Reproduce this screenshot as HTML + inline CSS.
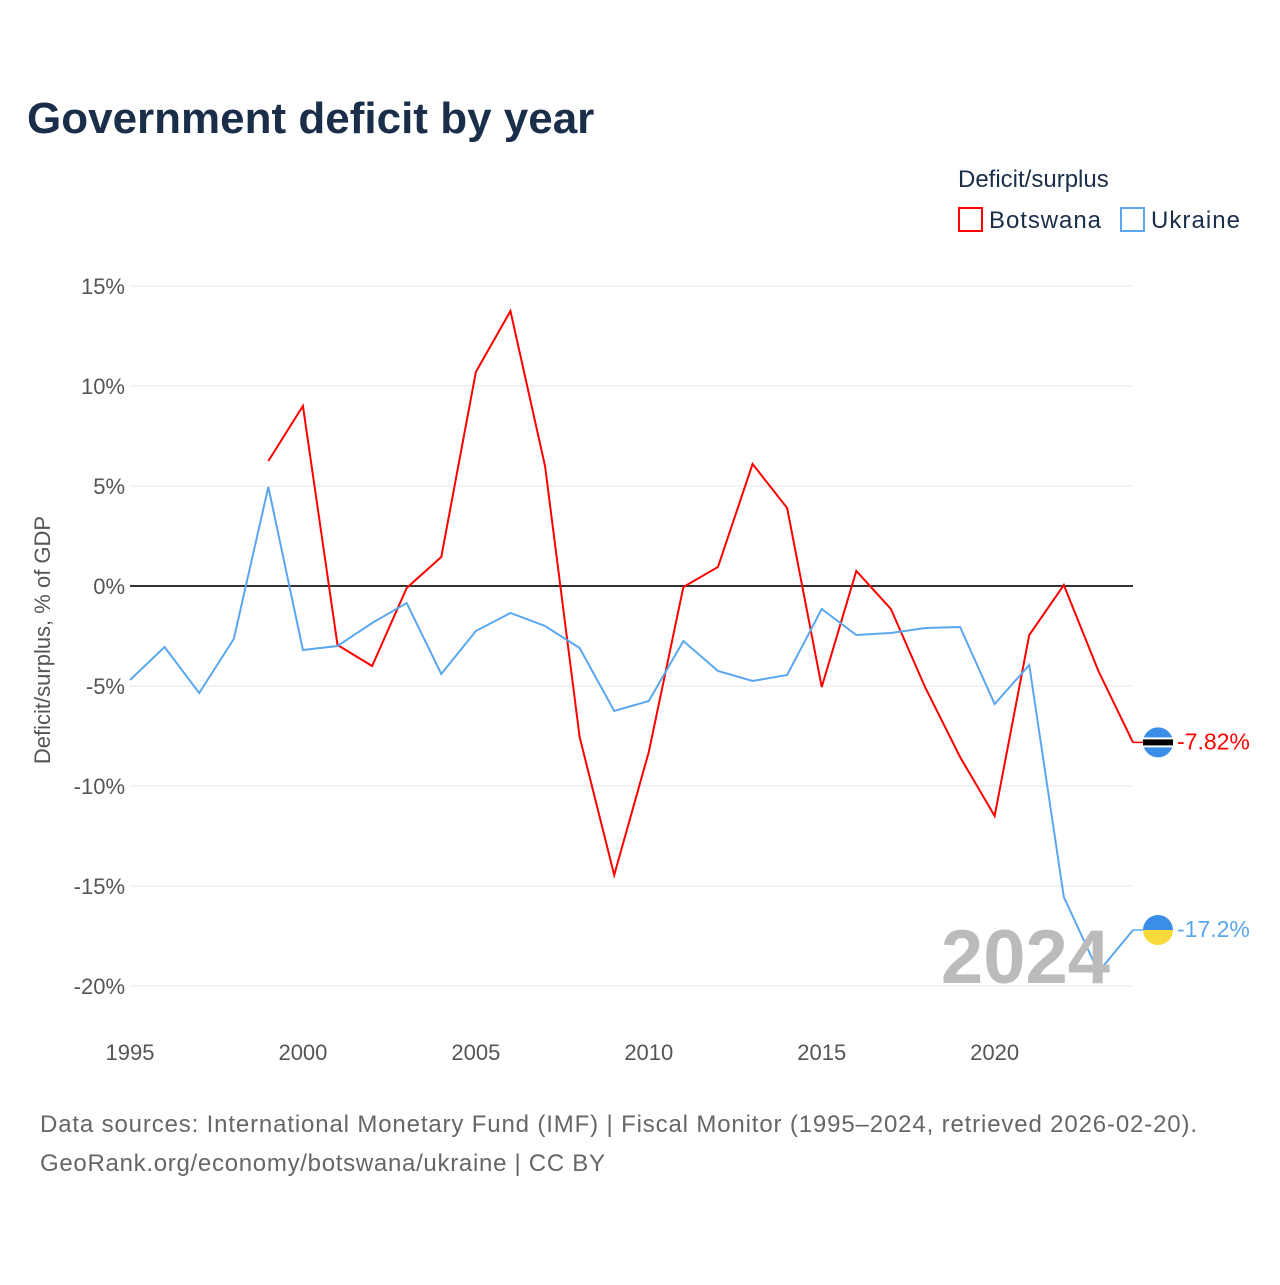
<!DOCTYPE html>
<html><head><meta charset="utf-8"><style>
body{margin:0;background:#fff;width:1280px;height:1280px;overflow:hidden;font-family:"Liberation Sans",sans-serif}
</style></head><body>
<svg width="1280" height="1280" xmlns="http://www.w3.org/2000/svg" font-family="Liberation Sans, sans-serif">
<text x="27" y="133" font-size="44" font-weight="bold" fill="#1a2e4a">Government deficit by year</text>
<text x="958" y="187" font-size="24" fill="#1a2e4a">Deficit/surplus</text>
<g><rect x="959" y="208" width="23" height="23" fill="none" stroke="#f00" stroke-width="2"/><text x="989" y="228" font-size="24" fill="#1a2e4a" textLength="112">Botswana</text></g>
<g><rect x="1121" y="208" width="23" height="23" fill="none" stroke="#5aa7f0" stroke-width="2"/><text x="1151" y="228" font-size="24" fill="#1a2e4a" textLength="89">Ukraine</text></g>
<text transform="translate(50,640) rotate(-90)" text-anchor="middle" font-size="22" fill="#555">Deficit/surplus, % of GDP</text>
<g id="grid"></g><g id="marks"></g>
<text x="1110" y="983" text-anchor="end" font-size="76" font-weight="bold" fill="#bbb">2024</text>
<text x="40" y="1132" font-size="24" fill="#666" textLength="1157">Data sources: International Monetary Fund (IMF) | Fiscal Monitor (1995–2024, retrieved 2026-02-20).</text>
<text x="40" y="1171" font-size="24" fill="#666" textLength="565">GeoRank.org/economy/botswana/ukraine | CC BY</text>
</svg>
<script>
const years=[1995,1996,1997,1998,1999,2000,2001,2002,2003,2004,2005,2006,2007,2008,2009,2010,2011,2012,2013,2014,2015,2016,2017,2018,2019,2020,2021,2022,2023,2024];
const botswana=[null,null,null,null,6.25,9.0,-2.95,-4.0,-0.1,1.45,10.7,13.75,6.0,-7.55,-14.45,-8.3,-0.05,0.95,6.1,3.9,-5.05,0.75,-1.15,-5.1,-8.55,-11.5,-2.45,0.05,-4.25,-7.82];
const ukraine=[-4.7,-3.05,-5.35,-2.65,4.95,-3.2,-3.0,-1.85,-0.85,-4.4,-2.25,-1.35,-2.0,-3.1,-6.25,-5.75,-2.75,-4.25,-4.75,-4.45,-1.15,-2.45,-2.35,-2.1,-2.05,-5.9,-3.95,-15.55,-19.3,-17.2];
const yTicks=[15,10,5,0,-5,-10,-15,-20];
const yTickLabels=["15%","10%","5%","0%","-5%","-10%","-15%","-20%"];
const xTicks=[1995,2000,2005,2010,2015,2020];
const NS="http://www.w3.org/2000/svg";
const X=y=>130+(y-1995)*(1003/29);
const Y=v=>586-v*20;
function mk(t,a,p){const e=document.createElementNS(NS,t);for(const k in a)e.setAttribute(k,a[k]);p.appendChild(e);return e;}
const g=document.getElementById('grid'),m=document.getElementById('marks');
yTicks.forEach((t,i)=>{
 const l=mk('line',{x1:130,x2:1133,y1:Y(t),y2:Y(t),stroke:t===0?'#333':'#e6e6e6','stroke-width':t===0?2:1},g);
 
 
 const tx=mk('text',{x:125,y:Y(t)+8,'text-anchor':'end','font-size':22,fill:'#555'},g);
 tx.textContent=yTickLabels[i];
 
 
});
xTicks.forEach(t=>{
 const tx=mk('text',{x:X(t),y:1060,'text-anchor':'middle','font-size':22,fill:'#555'},g);
 tx.textContent=t;
 
 
});
function series(vals,color,name,label){
 let d='';let pen=false;
 vals.forEach((v,i)=>{if(v===null){pen=false;return;}d+=(pen?'L':'M')+X(years[i])+','+Y(v);pen=true;});
 const p=mk('path',{d:d,fill:'none',stroke:color,'stroke-width':2},m);
 
 
 const last=vals[vals.length-1];
 const ln=mk('line',{x1:X(2024),x2:1158,y1:Y(last),y2:Y(last),stroke:color,'stroke-width':1.5},m);
 
 
 const tx=mk('text',{x:1177,y:Y(last)+7,'font-size':23,fill:color},m);
 tx.textContent=label;
 
 
 return Y(last);
}
const yb=series(botswana,'#f00','botswana','-7.82%');
const yu=series(ukraine,'#5aa7f0','ukraine','-17.2%');
const fb=mk('g',{},m);


mk('circle',{cx:1158,cy:yb,r:15,fill:'#3b8ee8'},fb);
mk('rect',{x:1143,y:yb-5,width:30,height:10,fill:'#fff'},fb);
mk('rect',{x:1143,y:yb-3,width:30,height:6,fill:'#000'},fb);
const fu=mk('g',{},m);


mk('path',{d:`M1143,${yu} A15,15 0 0 1 1173,${yu} Z`,fill:'#3b8ee8'},fu);
mk('path',{d:`M1143,${yu} A15,15 0 0 0 1173,${yu} Z`,fill:'#f7d93a'},fu);
</script>
</body></html>
